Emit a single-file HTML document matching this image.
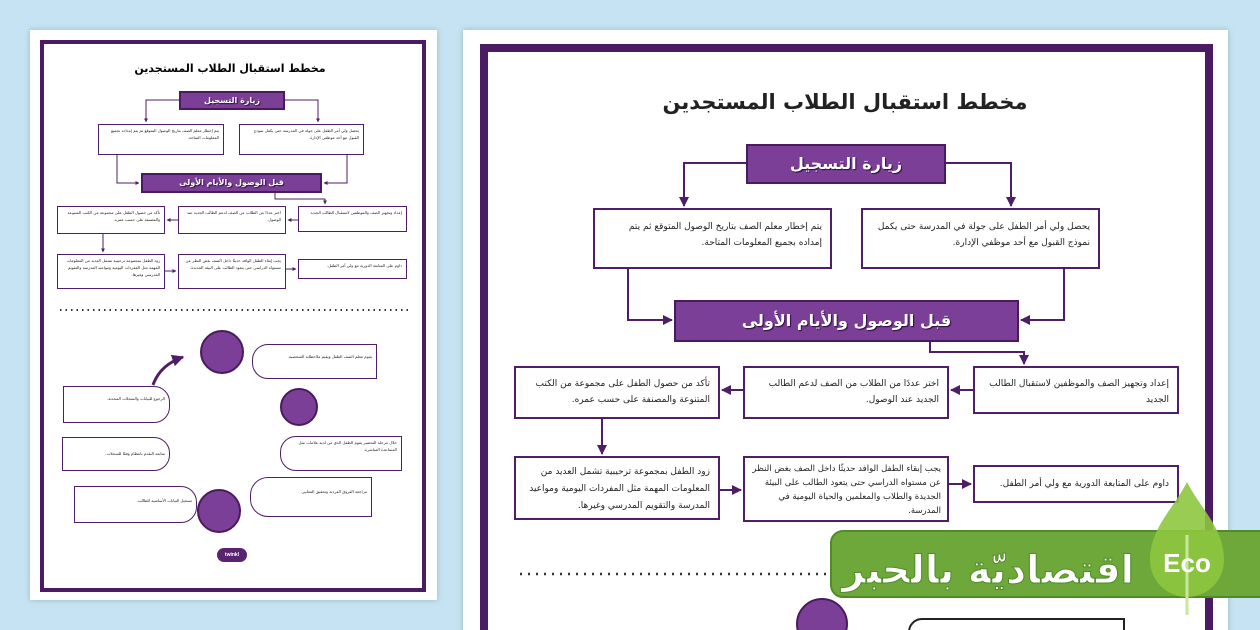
<!DOCTYPE html>
<html><head><meta charset="utf-8"><style>
*{margin:0;padding:0;box-sizing:border-box}
html{width:1260px;height:630px;overflow:hidden}
body{width:1260px;height:630px;overflow:hidden;background:#c6e3f3;position:relative;font-family:"Liberation Sans","Noto Sans CJK SC",sans-serif}
.a{position:absolute}
.bx{position:absolute;background:#fff;border:2px solid #4e1f66;direction:rtl;text-align:right;color:#222;font-family:"DejaVu Sans","Liberation Sans",sans-serif}
.r .bx{font-size:9px;line-height:16px;padding:6px 8px}
.l .bx{font-size:4px;line-height:7px;padding:2px 4px;border-width:1px}
.hd{position:absolute;background:#7c3f98;border:2px solid #4a1a5e;color:#fff;text-align:center;font-weight:bold;direction:rtl;font-family:"DejaVu Sans",sans-serif;text-shadow:1px 1px 1px #2a0a3a}
</style></head><body>
<!-- left page -->
<div class="a" style="left:30px;top:30px;width:407px;height:570px;background:#fff;box-shadow:0 0 6px #9bb"></div>
<div class="a" style="left:40px;top:40px;width:386px;height:552px;border:4px solid #4b1b63"></div>
<div class="l">
<div class="a" style="left:130px;top:62px;width:200px;text-align:center;font-size:11px;font-weight:bold;direction:rtl;font-family:'DejaVu Sans',sans-serif">مخطط استقبال الطلاب المستجدين</div>
<div class="hd" style="left:179px;top:91px;width:106px;height:19px;font-size:8px;line-height:15px">زيارة التسجيل</div>
<div class="bx" style="left:98px;top:124px;width:126px;height:31px">يتم إخطار معلم الصف بتاريخ الوصول المتوقع ثم يتم إمداده بجميع المعلومات المتاحة.</div>
<div class="bx" style="left:239px;top:124px;width:125px;height:31px">يحصل ولي أمر الطفل على جولة في المدرسة حتى يكمل نموذج القبول مع أحد موظفي الإدارة.</div>
<div class="hd" style="left:141px;top:173px;width:181px;height:20px;font-size:8px;line-height:16px">قبل الوصول والأيام الأولى</div>
<div class="bx" style="left:57px;top:206px;width:108px;height:28px">تأكد من حصول الطفل على مجموعة من الكتب المتنوعة والمصنفة على حسب عمره.</div>
<div class="bx" style="left:178px;top:206px;width:108px;height:28px">اختر عددًا من الطلاب من الصف لدعم الطالب الجديد عند الوصول.</div>
<div class="bx" style="left:298px;top:206px;width:109px;height:26px">إعداد وتجهيز الصف والموظفين لاستقبال الطالب الجديد</div>
<div class="bx" style="left:57px;top:254px;width:108px;height:35px">زود الطفل بمجموعة ترحيبية تشمل العديد من المعلومات المهمة مثل المفردات اليومية ومواعيد المدرسة والتقويم المدرسي وغيرها.</div>
<div class="bx" style="left:178px;top:254px;width:108px;height:35px">يجب إبقاء الطفل الوافد حديثًا داخل الصف بغض النظر عن مستواه الدراسي حتى يتعود الطالب على البيئة الجديدة.</div>
<div class="bx" style="left:298px;top:259px;width:109px;height:20px">داوم على المتابعة الدورية مع ولي أمر الطفل.</div>
<div class="bx" style="left:252px;top:344px;width:125px;height:35px;border-radius:16px 0 0 16px;padding-top:8px">يقوم معلم الصف الطفل ويقيم ملاحظاته الشخصية.</div>
<div class="bx" style="left:280px;top:436px;width:122px;height:35px;border-radius:16px 0 0 16px">خلال مرحلة التحضير يقوم الطفل الذي من لديه علامات مثل المساعدة المباشرة.</div>
<div class="bx" style="left:250px;top:477px;width:122px;height:40px;border-radius:18px 0 0 18px;padding-top:10px">مراجعة الفروق الفردية وتحقيق المعايير.</div>
<div class="bx" style="left:63px;top:386px;width:107px;height:37px;border-radius:0 16px 16px 0;padding-top:8px">الرجوع للبيانات والسجلات المحدثة.</div>
<div class="bx" style="left:62px;top:437px;width:108px;height:34px;border-radius:0 16px 16px 0;padding-top:12px">متابعة التقدم بانتظام وفقًا للسجلات.</div>
<div class="bx" style="left:74px;top:486px;width:123px;height:37px;border-radius:0 16px 16px 0;padding-top:10px">تسجيل البيانات الأساسية للطالب.</div>
<div class="a" style="left:200px;top:330px;width:44px;height:44px;border-radius:50%;background:#7c3f98;border:2px solid #4a1a5e"></div>
<div class="a" style="left:280px;top:388px;width:38px;height:38px;border-radius:50%;background:#7c3f98;border:2px solid #4a1a5e"></div>
<div class="a" style="left:197px;top:489px;width:44px;height:44px;border-radius:50%;background:#7c3f98;border:2px solid #4a1a5e"></div>
<div class="a" style="left:217px;top:548px;width:30px;height:14px;border-radius:7px;background:#5a2370;color:#fff;font-size:5px;text-align:center;line-height:14px;font-weight:bold">twinkl</div>
</div>
<!-- right page -->
<div class="a" style="left:463px;top:30px;width:765px;height:610px;background:#fff;box-shadow:0 0 6px #9bb"></div>
<div class="a" style="left:480px;top:44px;width:733px;height:600px;border:8px solid #4b1b63"></div>
<div class="r">
<div class="a" style="left:645px;top:90px;width:400px;text-align:center;font-size:21px;font-weight:bold;direction:rtl;font-family:'DejaVu Sans',sans-serif;color:#222">مخطط استقبال الطلاب المستجدين</div>
<div class="hd" style="left:746px;top:144px;width:200px;height:40px;font-size:16px;line-height:35px">زيارة التسجيل</div>
<div class="bx" style="left:593px;top:208px;width:239px;height:61px;padding-top:9px">يتم إخطار معلم الصف بتاريخ الوصول المتوقع ثم يتم إمداده بجميع المعلومات المتاحة.</div>
<div class="bx" style="left:861px;top:208px;width:239px;height:61px;padding-top:9px">يحصل ولي أمر الطفل على جولة في المدرسة حتى يكمل نموذج القبول مع أحد موظفي الإدارة.</div>
<div class="hd" style="left:674px;top:300px;width:345px;height:42px;font-size:16px;line-height:37px">قبل الوصول والأيام الأولى</div>
<div class="bx" style="left:514px;top:366px;width:206px;height:53px;padding-top:8px">تأكد من حصول الطفل على مجموعة من الكتب المتنوعة والمصنفة على حسب عمره.</div>
<div class="bx" style="left:743px;top:366px;width:206px;height:53px;padding-top:8px">اختر عددًا من الطلاب من الصف لدعم الطالب الجديد عند الوصول.</div>
<div class="bx" style="left:973px;top:366px;width:206px;height:48px;padding-top:8px">إعداد وتجهيز الصف والموظفين لاستقبال الطالب الجديد</div>
<div class="bx" style="left:514px;top:456px;width:206px;height:64px;padding-top:6px;line-height:17px">زود الطفل بمجموعة ترحيبية تشمل العديد من المعلومات المهمة مثل المفردات اليومية ومواعيد المدرسة والتقويم المدرسي وغيرها.</div>
<div class="bx" style="left:743px;top:456px;width:206px;height:66px;padding:4px 6px;font-size:8.5px;line-height:14px">يجب إبقاء الطفل الوافد حديثًا داخل الصف بغض النظر عن مستواه الدراسي حتى يتعود الطالب على البيئة الجديدة والطلاب والمعلمين والحياة اليومية في المدرسة.</div>
<div class="bx" style="left:973px;top:465px;width:206px;height:38px;padding-top:9px">داوم على المتابعة الدورية مع ولي أمر الطفل.</div>
<div class="a" style="left:796px;top:598px;width:52px;height:52px;border-radius:50%;background:#7c3f98;border:2px solid #4a1a5e"></div>
<div class="a" style="left:908px;top:618px;width:217px;height:30px;border:2px solid #222;border-radius:14px 0 0 0;background:#fff"></div>
</div>
<svg class="a" style="left:0;top:0" width="1260" height="630">
<defs><marker id="m" viewBox="0 0 10 10" refX="9" refY="5" markerWidth="5" markerHeight="5" orient="auto"><path d="M0,0L10,5L0,10z" fill="#4e1f66"/></marker>
<marker id="s" viewBox="0 0 10 10" refX="9" refY="5" markerWidth="4" markerHeight="4" orient="auto"><path d="M0,0L10,5L0,10z" fill="#4e1f66"/></marker></defs>
<g fill="none" stroke="#4e1f66" stroke-width="2" marker-end="url(#m)">
<path d="M746,163H684V206"/><path d="M946,163H1011V206"/>
<path d="M628,269V320H672"/><path d="M1064,269V320H1021"/>
<path d="M930,342V352H1024V364"/>
<path d="M973,390H951"/><path d="M743,390H722"/>
<path d="M602,419V454"/>
<path d="M720,490H741"/><path d="M949,484H971"/>
</g>
<g fill="none" stroke="#4e1f66" stroke-width="1" marker-end="url(#s)">
<path d="M179,100H146V122"/><path d="M285,100H318V122"/>
<path d="M117,155V183H139"/><path d="M347,155V183H324"/>
<path d="M275,193V199H325V204"/>
<path d="M298,220H288"/><path d="M178,220H167"/>
<path d="M103,234V252"/><path d="M165,271H176"/><path d="M286,269H296"/>
</g>
<path d="M153,385Q160,365 183,357" fill="none" stroke="#4e1f66" stroke-width="3" marker-end="url(#s)"/>
<line x1="60" y1="310" x2="408" y2="310" stroke="#333" stroke-width="2" stroke-dasharray="1.5 4"/>
<line x1="520" y1="574" x2="835" y2="574" stroke="#333" stroke-width="2.5" stroke-dasharray="2 6"/>
<rect x="831" y="531" width="440" height="66" rx="12" fill="#6fa83a" stroke="#4f8c25" stroke-width="2"/>
<text x="988" y="583" text-anchor="middle" font-family="DejaVu Sans,sans-serif" font-size="39" font-weight="bold" fill="#fff" stroke="#4f8c25" stroke-width="1" direction="rtl">اقتصاديّة بالحبر</text>
<path d="M1187,482C1200,508 1224,528 1224,560A37,37 0 0 1 1150,560C1150,528 1174,508 1187,482z" fill="#8dc63f" fill-opacity="0.9"/>
<line x1="1187" y1="535" x2="1187" y2="615" stroke="#c9e6a0" stroke-width="3"/>
<text x="1187" y="572" text-anchor="middle" font-family="Liberation Sans,sans-serif" font-size="26" font-weight="bold" fill="#fff">Eco</text>
</svg>
</body></html>
